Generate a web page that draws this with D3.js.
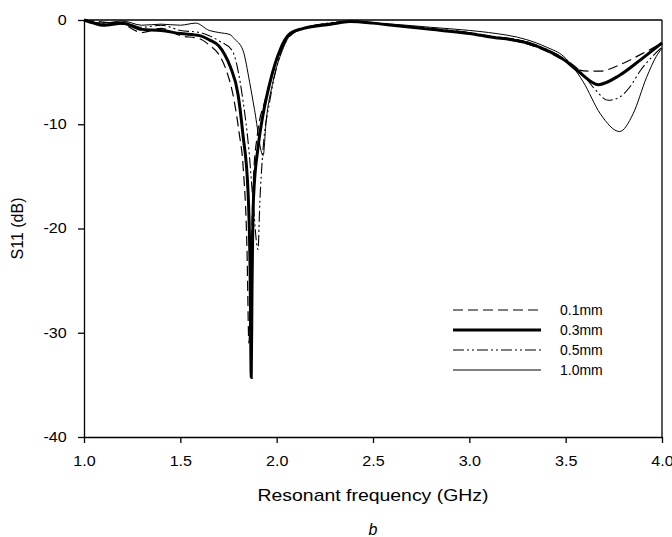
<!DOCTYPE html>
<html>
<head>
<meta charset="utf-8">
<script src="https://cdn.jsdelivr.net/npm/d3@7"></script>
<style>
  body { margin: 0; background: #fff; }
  svg { font-family: Arial, "Liberation Sans", sans-serif; }
  .axis path, .axis line { stroke: #000; stroke-width: 1.3px; }
  .axis text { font-size: 14px; fill: #000; }
  .curve { fill: none; stroke: #000; }
</style>
</head>
<body>
<div id="chart"></div>
<script>
// frequency (GHz) and S11 (dB) for each strip thickness
var freq01 = [1.00, 1.10, 1.20, 1.30, 1.40, 1.50, 1.60, 1.65, 1.70, 1.732, 1.779, 1.805, 1.826, 1.846, 1.856, 1.866, 1.88, 1.90, 1.94, 1.98, 2.03, 2.10, 2.20, 2.38, 2.50, 2.60, 2.80, 3.00, 3.10, 3.30, 3.40, 3.50, 3.57, 3.62, 3.68, 3.78, 3.89, 4.00];
var s11_01  = [0, -0.2, -0.4, -1.2, -0.8, -1.5, -1.8, -2.4, -3.3, -4.5, -7.7, -10.8, -14.1, -22, -31, -24, -15, -11, -7.7, -5.0, -2.6, -1.1, -0.6, -0.2, -0.3, -0.5, -0.9, -1.3, -1.6, -2.3, -3.0, -4.0, -4.8, -4.9, -4.9, -4.3, -3.3, -2.2];

var freq03 = [1.00, 1.05, 1.10, 1.20, 1.30, 1.40, 1.50, 1.60, 1.65, 1.70, 1.73, 1.76, 1.80, 1.825, 1.851, 1.862, 1.868, 1.872, 1.88, 1.905, 1.93, 1.965, 2.017, 2.07, 2.14, 2.28, 2.38, 2.50, 2.60, 2.80, 3.00, 3.10, 3.30, 3.40, 3.49, 3.57, 3.67, 3.78, 3.89, 4.00];
var s11_03  = [0, -0.3, -0.5, -0.3, -0.9, -1.0, -1.3, -1.5, -1.9, -2.5, -3.3, -4.5, -7.2, -11, -16.3, -24, -34.3, -26, -17, -12, -9.0, -6.0, -2.9, -1.3, -0.8, -0.4, -0.15, -0.3, -0.5, -0.9, -1.3, -1.6, -2.2, -2.9, -3.8, -5.0, -6.2, -5.3, -3.8, -2.2];

var freq05 = [1.00, 1.10, 1.20, 1.30, 1.40, 1.50, 1.60, 1.65, 1.70, 1.768, 1.825, 1.856, 1.877, 1.903, 1.913, 1.929, 1.965, 2.00, 2.05, 2.10, 2.20, 2.38, 2.50, 2.60, 2.80, 3.00, 3.10, 3.30, 3.40, 3.50, 3.58, 3.65, 3.72, 3.78, 3.83, 3.89, 3.95, 4.00];
var s11_05  = [0, -0.3, -0.2, -0.7, -0.5, -1.0, -1.2, -1.5, -2.0, -2.9, -7.7, -12.5, -17.3, -22, -17.3, -12.5, -7.7, -4.5, -1.9, -1.0, -0.5, -0.15, -0.3, -0.5, -0.8, -1.2, -1.5, -2.1, -2.8, -3.8, -5.0, -6.6, -7.7, -7.4, -6.5, -4.8, -3.5, -2.6];

var freq10 = [1.00, 1.10, 1.20, 1.30, 1.40, 1.50, 1.58, 1.65, 1.70, 1.758, 1.78, 1.825, 1.86, 1.885, 1.93, 1.945, 1.98, 2.03, 2.08, 2.15, 2.28, 2.38, 2.50, 2.60, 2.80, 3.00, 3.10, 3.30, 3.40, 3.49, 3.59, 3.68, 3.78, 3.85, 3.92, 3.97, 4.00];
var s11_10  = [0, -0.3, -0.1, -0.5, -0.4, -0.5, -0.3, -1.0, -1.2, -1.4, -1.8, -2.9, -6.0, -8.6, -13.0, -9.8, -6.0, -2.9, -1.25, -0.7, -0.3, -0.15, -0.3, -0.4, -0.7, -1.0, -1.2, -1.9, -2.6, -3.5, -5.9, -9.0, -10.7, -9.0, -5.5, -3.5, -2.7];

var seriesNames = ['0.1mm', '0.3mm', '0.5mm', '1.0mm'];
var xTicks = [1.0, 1.5, 2.0, 2.5, 3.0, 3.5, 4.0];
var yTicks = [0, -10, -20, -30, -40];

var styles = {
  '0.1mm': {width: 1.2, dash: '10,5'},
  '0.3mm': {width: 3, dash: null},
  '0.5mm': {width: 1.1, dash: '11,3,2,3,2,3'},
  '1.0mm': {width: 1, dash: null}
};

var series = [
  {name: seriesNames[0], f: freq01, s: s11_01},
  {name: seriesNames[1], f: freq03, s: s11_03},
  {name: seriesNames[2], f: freq05, s: s11_05},
  {name: seriesNames[3], f: freq10, s: s11_10}
];

var W = 672, H = 537;
var margin = {top: 20, right: 10, bottom: 100, left: 84};
var plotW = W - margin.left - margin.right;
var plotH = H - margin.top - margin.bottom;

var svg = d3.select('#chart').append('svg')
  .attr('width', W)
  .attr('height', H);

var g = svg.append('g')
  .attr('transform', 'translate(' + margin.left + ',' + margin.top + ')');

var x = d3.scaleLinear().domain([1, 4]).range([0, plotW]);
var y = d3.scaleLinear().domain([-40, 0]).range([plotH, 0]);

//frame on top and right
g.append('line').attr('x1', 0).attr('x2', plotW).attr('y1', 0).attr('y2', 0)
  .attr('stroke', '#000').attr('stroke-width', 1.3);
g.append('line').attr('x1', plotW).attr('x2', plotW).attr('y1', 0).attr('y2', plotH)
  .attr('stroke', '#000').attr('stroke-width', 1.3);

var xAxis = g.append('g')
  .attr('class', 'axis')
  .attr('transform', 'translate(0,' + plotH + ')')
  .call(d3.axisBottom(x).tickValues(xTicks).tickFormat(function (d) { return d.toFixed(1); }).tickSize(6).tickSizeOuter(0).tickPadding(13));
xAxis.selectAll('text').attr('transform', 'scale(1.15,1)');

// plain hyphen for negatives like the original, not the unicode minus
var yAxis = g.append('g')
  .attr('class', 'axis')
  .call(d3.axisLeft(y).tickValues(yTicks).tickFormat(function (d) { return String(d); }).tickSize(6).tickSizeOuter(0).tickPadding(9));
yAxis.selectAll('text').attr('transform', 'scale(1.15,1)');

var line = d3.line()
  .x(function (d) { return x(d[0]); })
  .y(function (d) { return y(d[1]); })
  .curve(d3.curveMonotoneX);

series.forEach(function (sr) {
  var pts = sr.f.map(function (f, i) { return [f, sr.s[i]]; });
  var st = styles[sr.name];
  g.append('path')
    .attr('class', 'curve')
    .attr('d', line(pts))
    .attr('stroke-width', st.width)
    .attr('stroke-dasharray', st.dash);
});

// legend
var legend = g.append('g').attr('transform', 'translate(' + (453 - margin.left) + ',' + (310 - margin.top) + ')');
seriesNames.forEach(function (name, i) {
  var st = styles[name];
  legend.append('line')
    .attr('x1', 0).attr('x2', 88)
    .attr('y1', i * 20).attr('y2', i * 20)
    .attr('stroke', '#000')
    .attr('stroke-width', st.width)
    .attr('stroke-dasharray', st.dash);
  legend.append('text')
    .attr('x', 107).attr('y', i * 20 + 5)
    .attr('font-size', 14)
    .text(name);
});

// axis titles
svg.append('text')
  .attr('x', margin.left + plotW / 2)
  .attr('y', 501)
  .attr('text-anchor', 'middle')
  .attr('font-size', 17)
  .attr('textLength', 231)
  .attr('lengthAdjust', 'spacingAndGlyphs')
  .text('Resonant frequency (GHz)');

svg.append('text')
  .attr('transform', 'translate(23,' + (margin.top + plotH / 2) + ') rotate(-90)')
  .attr('text-anchor', 'middle')
  .attr('font-size', 16)
  .text('S11 (dB)');

svg.append('text')
  .attr('x', 373)
  .attr('y', 535)
  .attr('text-anchor', 'middle')
  .attr('font-size', 16)
  .attr('font-style', 'italic')
  .text('b');
</script>
</body>
</html>
